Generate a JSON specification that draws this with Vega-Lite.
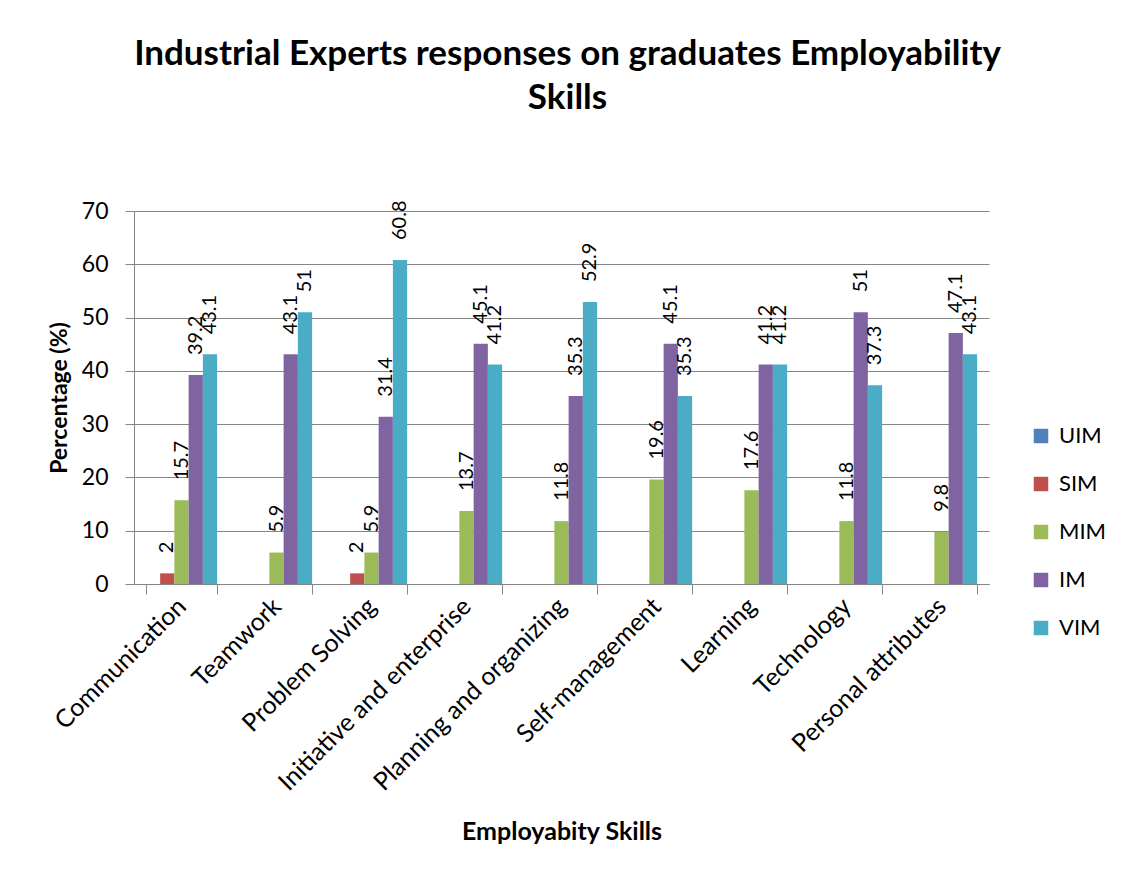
{
  "$schema": "https://vega.github.io/schema/vega-lite/v6.json",
  "width": 855,
  "height": 373,
  "autosize": "none",
  "padding": {"left": 134, "top": 211, "right": 134, "bottom": 294},
  "background": "white",
  "config": {
    "font": "Lato",
    "view": {"stroke": null},
    "axis": {"gridColor": "#868686", "domainColor": "#868686", "tickColor": "#868686", "labelColor": "black", "titleColor": "black"}
  },
  "title": {
    "text": ["Industrial Experts responses on graduates Employability", "Skills"],
    "fontSize": 35,
    "fontWeight": "bold",
    "font": "Lato",
    "color": "black",
    "anchor": "middle",
    "frame": "group",
    "offset": 84,
    "dx": 6,
    "lineHeight": 44
  },
  "data": {
    "values": [
      {"skill": "Communication", "level": "UIM", "value": 0},
      {"skill": "Communication", "level": "SIM", "value": 2},
      {"skill": "Communication", "level": "MIM", "value": 15.7},
      {"skill": "Communication", "level": "IM", "value": 39.2},
      {"skill": "Communication", "level": "VIM", "value": 43.1},
      {"skill": "Teamwork", "level": "UIM", "value": 0},
      {"skill": "Teamwork", "level": "SIM", "value": 0},
      {"skill": "Teamwork", "level": "MIM", "value": 5.9},
      {"skill": "Teamwork", "level": "IM", "value": 43.1},
      {"skill": "Teamwork", "level": "VIM", "value": 51},
      {"skill": "Problem Solving", "level": "UIM", "value": 0},
      {"skill": "Problem Solving", "level": "SIM", "value": 2},
      {"skill": "Problem Solving", "level": "MIM", "value": 5.9},
      {"skill": "Problem Solving", "level": "IM", "value": 31.4},
      {"skill": "Problem Solving", "level": "VIM", "value": 60.8},
      {"skill": "Initiative and enterprise", "level": "UIM", "value": 0},
      {"skill": "Initiative and enterprise", "level": "SIM", "value": 0},
      {"skill": "Initiative and enterprise", "level": "MIM", "value": 13.7},
      {"skill": "Initiative and enterprise", "level": "IM", "value": 45.1},
      {"skill": "Initiative and enterprise", "level": "VIM", "value": 41.2},
      {"skill": "Planning and organizing", "level": "UIM", "value": 0},
      {"skill": "Planning and organizing", "level": "SIM", "value": 0},
      {"skill": "Planning and organizing", "level": "MIM", "value": 11.8},
      {"skill": "Planning and organizing", "level": "IM", "value": 35.3},
      {"skill": "Planning and organizing", "level": "VIM", "value": 52.9},
      {"skill": "Self-management", "level": "UIM", "value": 0},
      {"skill": "Self-management", "level": "SIM", "value": 0},
      {"skill": "Self-management", "level": "MIM", "value": 19.6},
      {"skill": "Self-management", "level": "IM", "value": 45.1},
      {"skill": "Self-management", "level": "VIM", "value": 35.3},
      {"skill": "Learning", "level": "UIM", "value": 0},
      {"skill": "Learning", "level": "SIM", "value": 0},
      {"skill": "Learning", "level": "MIM", "value": 17.6},
      {"skill": "Learning", "level": "IM", "value": 41.2},
      {"skill": "Learning", "level": "VIM", "value": 41.2},
      {"skill": "Technology", "level": "UIM", "value": 0},
      {"skill": "Technology", "level": "SIM", "value": 0},
      {"skill": "Technology", "level": "MIM", "value": 11.8},
      {"skill": "Technology", "level": "IM", "value": 51},
      {"skill": "Technology", "level": "VIM", "value": 37.3},
      {"skill": "Personal attributes", "level": "UIM", "value": 0},
      {"skill": "Personal attributes", "level": "SIM", "value": 0},
      {"skill": "Personal attributes", "level": "MIM", "value": 9.8},
      {"skill": "Personal attributes", "level": "IM", "value": 47.1},
      {"skill": "Personal attributes", "level": "VIM", "value": 43.1}
    ]
  },
  "encoding": {
    "x": {
      "field": "skill",
      "type": "nominal",
      "sort": null,
      "scale": {"paddingInner": 0.25, "paddingOuter": 0.125},
      "axis": {
        "title": "Employabity Skills",
        "titleFontSize": 25,
        "titleFontWeight": "bold",
        "titlePadding": 35,
        "labelFontSize": 25,
        "labelLimit": 0,
        "labelAngle": -45,
        "labelAlign": "right",
        "labelBaseline": "middle",
        "labelPadding": 8,
        "tickSize": 10,
        "tickBand": "extent",
        "grid": false
      }
    },
    "xOffset": {
      "field": "level",
      "type": "nominal",
      "sort": ["UIM", "SIM", "MIM", "IM", "VIM"],
      "scale": {"paddingInner": 0, "paddingOuter": 0}
    },
    "y": {
      "field": "value",
      "type": "quantitative",
      "scale": {"domain": [0, 70], "nice": false},
      "axis": {
        "title": "Percentage (%)",
        "titleFontSize": 23,
        "titleFontWeight": "bold",
        "titlePadding": 10,
        "labelFontSize": 23,
        "labelPadding": 17,
        "tickSize": 9,
        "values": [0, 10, 20, 30, 40, 50, 60, 70],
        "grid": true
      }
    }
  },
  "layer": [
    {
      "mark": {"type": "bar"},
      "encoding": {
        "color": {
          "field": "level",
          "type": "nominal",
          "sort": ["UIM", "SIM", "MIM", "IM", "VIM"],
          "scale": {
            "domain": ["UIM", "SIM", "MIM", "IM", "VIM"],
            "range": ["#4F81BD", "#C0504D", "#9BBB59", "#8064A2", "#4BACC6"]
          },
          "legend": {
            "title": null,
            "orient": "none",
            "legendX": 896,
            "legendY": 214,
            "symbolType": "square",
            "symbolSize": 210,
            "symbolStrokeWidth": 0,
            "labelFontSize": 22,
            "labelOffset": 7,
            "rowPadding": 26,
            "labelColor": "black"
          }
        }
      }
    },
    {
      "transform": [{"filter": "datum.value > 0"}],
      "mark": {"type": "text", "angle": 270, "align": "left", "baseline": "middle", "dx": 20, "fontSize": 20, "color": "black"},
      "encoding": {
        "text": {"field": "value", "type": "quantitative"}
      }
    }
  ]
}
